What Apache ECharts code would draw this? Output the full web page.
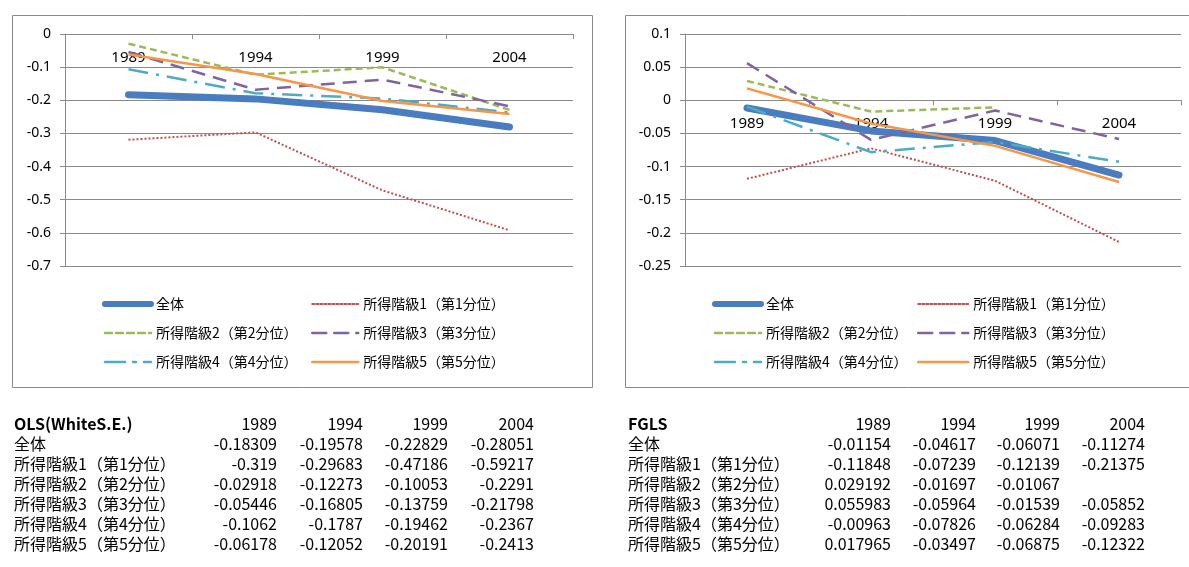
<!DOCTYPE html>
<html>
<head>
<meta charset="utf-8">
<script src="https://cdn.jsdelivr.net/npm/echarts@6/dist/echarts.min.js"></script>
<style>
html, body { margin: 0; padding: 0; background: #fff; }
#left { position: absolute; left: 0; top: 0; width: 605px; height: 567px; }
#right { position: absolute; left: 605px; top: 0; width: 584px; height: 567px; }
</style>
</head>
<body>
<div id="left"></div>
<div id="right"></div>
<script>
const years = ["1989", "1994", "1999", "2004"];
const groups = [
    "全体",
    "所得階級1（第1分位）",
    "所得階級2（第2分位）",
    "所得階級3（第3分位）",
    "所得階級4（第4分位）",
    "所得階級5（第5分位）"
];

// OLS (White S.E.)
const olsAll = [-0.18309, -0.19578, -0.22829, -0.28051];
const olsQ1 = [-0.319, -0.29683, -0.47186, -0.59217];
const olsQ2 = [-0.02918, -0.12273, -0.10053, -0.2291];
const olsQ3 = [-0.05446, -0.16805, -0.13759, -0.21798];
const olsQ4 = [-0.1062, -0.1787, -0.19462, -0.2367];
const olsQ5 = [-0.06178, -0.12052, -0.20191, -0.2413];

// FGLS
const fglsAll = [-0.01154, -0.04617, -0.06071, -0.11274];
const fglsQ1 = [-0.11848, -0.07239, -0.12139, -0.21375];
const fglsQ2 = [0.029192, -0.01697, -0.01067, null];
const fglsQ3 = [0.055983, -0.05964, -0.01539, -0.05852];
const fglsQ4 = [-0.00963, -0.07826, -0.06284, -0.09283];
const fglsQ5 = [0.017965, -0.03497, -0.06875, -0.12322];

const lineStyles = [
    { color: "#4A7CC0", width: 7, type: "solid", cap: "round" },
    { color: "#C0504D", width: 2, type: [2, 2] },
    { color: "#9BBB59", width: 2.5, type: [7, 4] },
    { color: "#8064A2", width: 2.5, type: [14, 8] },
    { color: "#4BACC6", width: 2.5, type: [20, 8, 3, 8] },
    { color: "#F79646", width: 2.5, type: "solid" }
];
const legendWidths = [6, 2, 2.5, 2.5, 2.5, 2.5];

const grayLine = "#8a8a8a";
const cjk = "'Noto Sans CJK JP', 'Noto Sans', sans-serif";
const plotHeight = 232;

function tableText(text, x, y, align, bold) {
    return {
        type: "text",
        silent: true,
        style: {
            text: text,
            x: x,
            y: y,
            align: align,
            verticalAlign: "middle",
            textAlign: align,
            textVerticalAlign: "middle",
            font: (bold ? "bold " : "") + "16px " + cjk,
            fill: "#000"
        }
    };
}

function legendItem(i) {
    return { name: groups[i], lineStyle: { width: legendWidths[i], cap: "round" } };
}

function drawPanel(el, cfg) {
    var chart = echarts.init(el);

    // table below the chart box
    var table = [tableText(cfg.title, cfg.tableLeft, cfg.rowTop, "left", true)];
    years.forEach(function (y, j) {
        table.push(tableText(y, cfg.colRight[j], cfg.rowTop, "right"));
    });
    cfg.data.forEach(function (row, i) {
        var y = cfg.rowTop + (i + 1) * 20;
        table.push(tableText(groups[i], cfg.tableLeft, y, "left"));
        row.forEach(function (v, j) {
            table.push(tableText(v === null ? "" : String(v), cfg.colRight[j], y, "right"));
        });
    });

    var legendBase = {
        orient: "vertical",
        top: 292,
        itemHeight: 14,
        itemGap: 15,
        itemStyle: { opacity: 0 },
        textStyle: { fontFamily: cjk, fontSize: 14, color: "#000" }
    };

    // category axis sits on the zero line of the value axis
    var zeroOffset = -plotHeight * (0 - cfg.yMin) / (cfg.yMax - cfg.yMin);

    chart.setOption({
        animation: false,
        backgroundColor: "#fff",
        grid: { left: cfg.gridLeft, top: 34, width: cfg.gridWidth, height: plotHeight },
        xAxis: {
            type: "category",
            data: years,
            boundaryGap: true,
            offset: zeroOffset,
            axisLine: { onZero: false, lineStyle: { color: grayLine } },
            axisTick: { show: true, length: 5, lineStyle: { color: grayLine } },
            axisLabel: {
                interval: 0,
                margin: 16,
                color: "#000",
                fontFamily: "'Noto Sans', sans-serif",
                fontSize: 15
            }
        },
        yAxis: {
            type: "value",
            min: cfg.yMin,
            max: cfg.yMax,
            interval: cfg.yStep,
            axisLine: { show: true, lineStyle: { color: grayLine } },
            axisTick: { show: true, length: 5, lineStyle: { color: grayLine } },
            splitLine: { lineStyle: { color: grayLine, width: 1 } },
            axisLabel: {
                margin: 14,
                color: "#000",
                fontFamily: "'Noto Sans', sans-serif",
                fontSize: 14
            }
        },
        legend: [
            Object.assign({}, legendBase, {
                left: cfg.legendLeft[0],
                itemWidth: cfg.legendWidth[0],
                data: [legendItem(0), legendItem(2), legendItem(4)]
            }),
            Object.assign({}, legendBase, {
                left: cfg.legendLeft[1],
                itemWidth: cfg.legendWidth[1],
                data: [legendItem(1), legendItem(3), legendItem(5)]
            })
        ],
        graphic: [{
            type: "rect",
            silent: true,
            z: -10,
            shape: cfg.box,
            style: { fill: "none", stroke: grayLine, lineWidth: 1 }
        }].concat(table),
        series: cfg.data.map(function (values, i) {
            return {
                name: groups[i],
                type: "line",
                data: values,
                symbol: "none",
                connectNulls: false,
                lineStyle: lineStyles[i],
                itemStyle: { color: lineStyles[i].color },
                emphasis: { disabled: true }
            };
        })
    });
}

drawPanel(document.getElementById("left"), {
    title: "OLS(WhiteS.E.)",
    data: [olsAll, olsQ1, olsQ2, olsQ3, olsQ4, olsQ5],
    yMin: -0.7, yMax: 0, yStep: 0.1,
    gridLeft: 65, gridWidth: 508,
    box: { x: 12.5, y: 15.5, width: 580, height: 372 },
    legendLeft: [97, 306],
    legendWidth: [46, 46],
    tableLeft: 14,
    rowTop: 424,
    colRight: [277, 363, 448, 534]
});

drawPanel(document.getElementById("right"), {
    title: "FGLS",
    data: [fglsAll, fglsQ1, fglsQ2, fglsQ3, fglsQ4, fglsQ5],
    yMin: -0.25, yMax: 0.1, yStep: 0.05,
    gridLeft: 80, gridWidth: 496,
    box: { x: 20.5, y: 15.5, width: 600, height: 372 },
    legendLeft: [102, 307],
    legendWidth: [46, 50],
    tableLeft: 23,
    rowTop: 424,
    colRight: [286, 371, 455, 540]
});
</script>
</body>
</html>
